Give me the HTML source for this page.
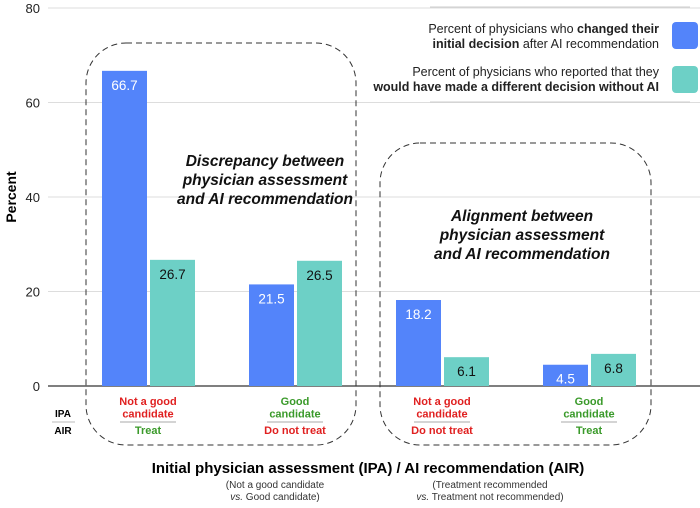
<!DOCTYPE html>
<html><head><meta charset="utf-8"><style>
body{margin:0;background:#fff;}
svg{font-family:"Liberation Sans",Arial,sans-serif;}
</style></head><body>
<svg id="c" width="700" height="503" viewBox="0 0 700 503">
<g id="grid"></g>
<g id="bars"></g>
<rect x="86" y="43" width="270" height="402" rx="40" fill="none" stroke="#333" stroke-dasharray="6,4" stroke-width="1"/>
<rect x="380" y="143" width="271" height="302" rx="40" fill="none" stroke="#333" stroke-dasharray="6,4" stroke-width="1"/>
<text font-weight="bold" font-style="italic" font-size="15.5" text-anchor="middle" fill="#111"><tspan x="265" y="166">Discrepancy between</tspan><tspan x="265" y="185">physician assessment</tspan><tspan x="265" y="204">and AI recommendation</tspan></text>
<text font-weight="bold" font-style="italic" font-size="15.5" text-anchor="middle" fill="#111"><tspan x="522" y="221">Alignment between</tspan><tspan x="522" y="240">physician assessment</tspan><tspan x="522" y="259">and AI recommendation</tspan></text>
<g>
<line x1="430" y1="7" x2="690" y2="7" stroke="#ccc"/>
<line x1="430" y1="102" x2="690" y2="102" stroke="#ccc"/>
<text font-size="12.5" text-anchor="end" fill="#222"><tspan x="659" y="33">Percent of physicians who <tspan font-weight="bold">changed their</tspan></tspan><tspan x="659" y="48"><tspan font-weight="bold">initial decision</tspan> after AI recommendation</tspan></text>
<rect x="672" y="22" width="26" height="27" rx="4" fill="#5384fa"/>
<text font-size="12.5" text-anchor="end" fill="#222"><tspan x="659" y="76">Percent of physicians who reported that they</tspan><tspan x="659" y="91" font-weight="bold">would have made a different decision without AI</tspan></text>
<rect x="672" y="66" width="26" height="27" rx="4" fill="#6dd0c6"/>
</g>
<text transform="translate(16,197) rotate(-90)" font-size="14" font-weight="bold" text-anchor="middle">Percent</text>
<text x="63" y="417" font-size="10" font-weight="bold" text-anchor="middle">IPA</text>
<line x1="52" y1="422" x2="75" y2="422" stroke="#bbb"/>
<text x="63" y="434" font-size="10" font-weight="bold" text-anchor="middle">AIR</text>
<g id="cats"></g>
<text x="368" y="473" font-size="15" font-weight="bold" text-anchor="middle">Initial physician assessment (IPA) / AI recommendation (AIR)</text>
<text font-size="10" text-anchor="middle" fill="#333"><tspan x="275" y="488">(Not a good candidate</tspan><tspan x="275" y="500"><tspan font-style="italic">vs.</tspan> Good candidate)</tspan></text>
<text font-size="10" text-anchor="middle" fill="#333"><tspan x="490" y="488">(Treatment recommended</tspan><tspan x="490" y="500"><tspan font-style="italic">vs.</tspan> Treatment not recommended)</tspan></text>
</svg>
<script>
const categoriesIPA=["Not a good|candidate","Good|candidate","Not a good|candidate","Good|candidate"];
const categoriesAIR=["Treat","Do not treat","Do not treat","Treat"];
const changedValues=[66.7,21.5,18.2,4.5];
const differentValues=[26.7,26.5,6.1,6.8];
const yTicks=[0,20,40,60,80];
const NS="http://www.w3.org/2000/svg";
const y0=386,pxPer=4.725;
function y(v){return y0-v*pxPer;}
function xc(i){return 148+i*147;}
function mk(tag,attrs,parent){const e=document.createElementNS(NS,tag);for(const k in attrs)e.setAttribute(k,attrs[k]);parent.appendChild(e);return e;}
const grid=document.getElementById('grid'),bars=document.getElementById('bars'),cats=document.getElementById('cats');
yTicks.forEach(t=>{
 const l=mk('line',{x1:48,x2:700,y1:y(t),y2:y(t),stroke:t===0?'#555':'#ddd','stroke-width':t===0?1.5:1},grid);
 
 
 const tx=mk('text',{x:40,y:y(t)+5,'font-size':13,'text-anchor':'end',fill:'#222'},grid);
 tx.textContent=t;
 
 
});
changedValues.forEach((v,i)=>{
 const x=xc(i);
 const b=mk('rect',{x:x-46,y:y(v),width:45,height:y(0)-y(v),fill:'#5384fa'},bars);
 
 
 const t=mk('text',{x:x-23.5,y:y(v)+19,'font-size':13.5,'text-anchor':'middle',fill:'#fff'},bars);
 t.textContent=v.toFixed(1);
 
 
 const w=differentValues[i];
 const b2=mk('rect',{x:x+2,y:y(w),width:45,height:y(0)-y(w),fill:'#6dd0c6'},bars);
 
 
 const t2=mk('text',{x:x+24.5,y:y(w)+19,'font-size':13.5,'text-anchor':'middle',fill:'#111'},bars);
 t2.textContent=w.toFixed(1);
 
 
 const ipaRed=categoriesIPA[i].indexOf('Not')===0;
 const p=categoriesIPA[i].split('|');
 const ti=mk('text',{'font-size':11,'font-weight':'bold','text-anchor':'middle',fill:ipaRed?'#e02020':'#3a9a2a'},cats);
 
 
 p.forEach((s,k)=>{const ts=mk('tspan',{x:x,y:405+k*12.5},ti);ts.textContent=s;});
 mk('line',{x1:x-28,x2:x+28,y1:422,y2:422,stroke:'#aaa'},cats);
 const air=categoriesAIR[i];
 const ta=mk('text',{x:x,y:434,'font-size':11,'font-weight':'bold','text-anchor':'middle',fill:air==='Treat'?'#3a9a2a':'#e02020'},cats);
 ta.textContent=air;
 
 
});
</script>
</body></html>
